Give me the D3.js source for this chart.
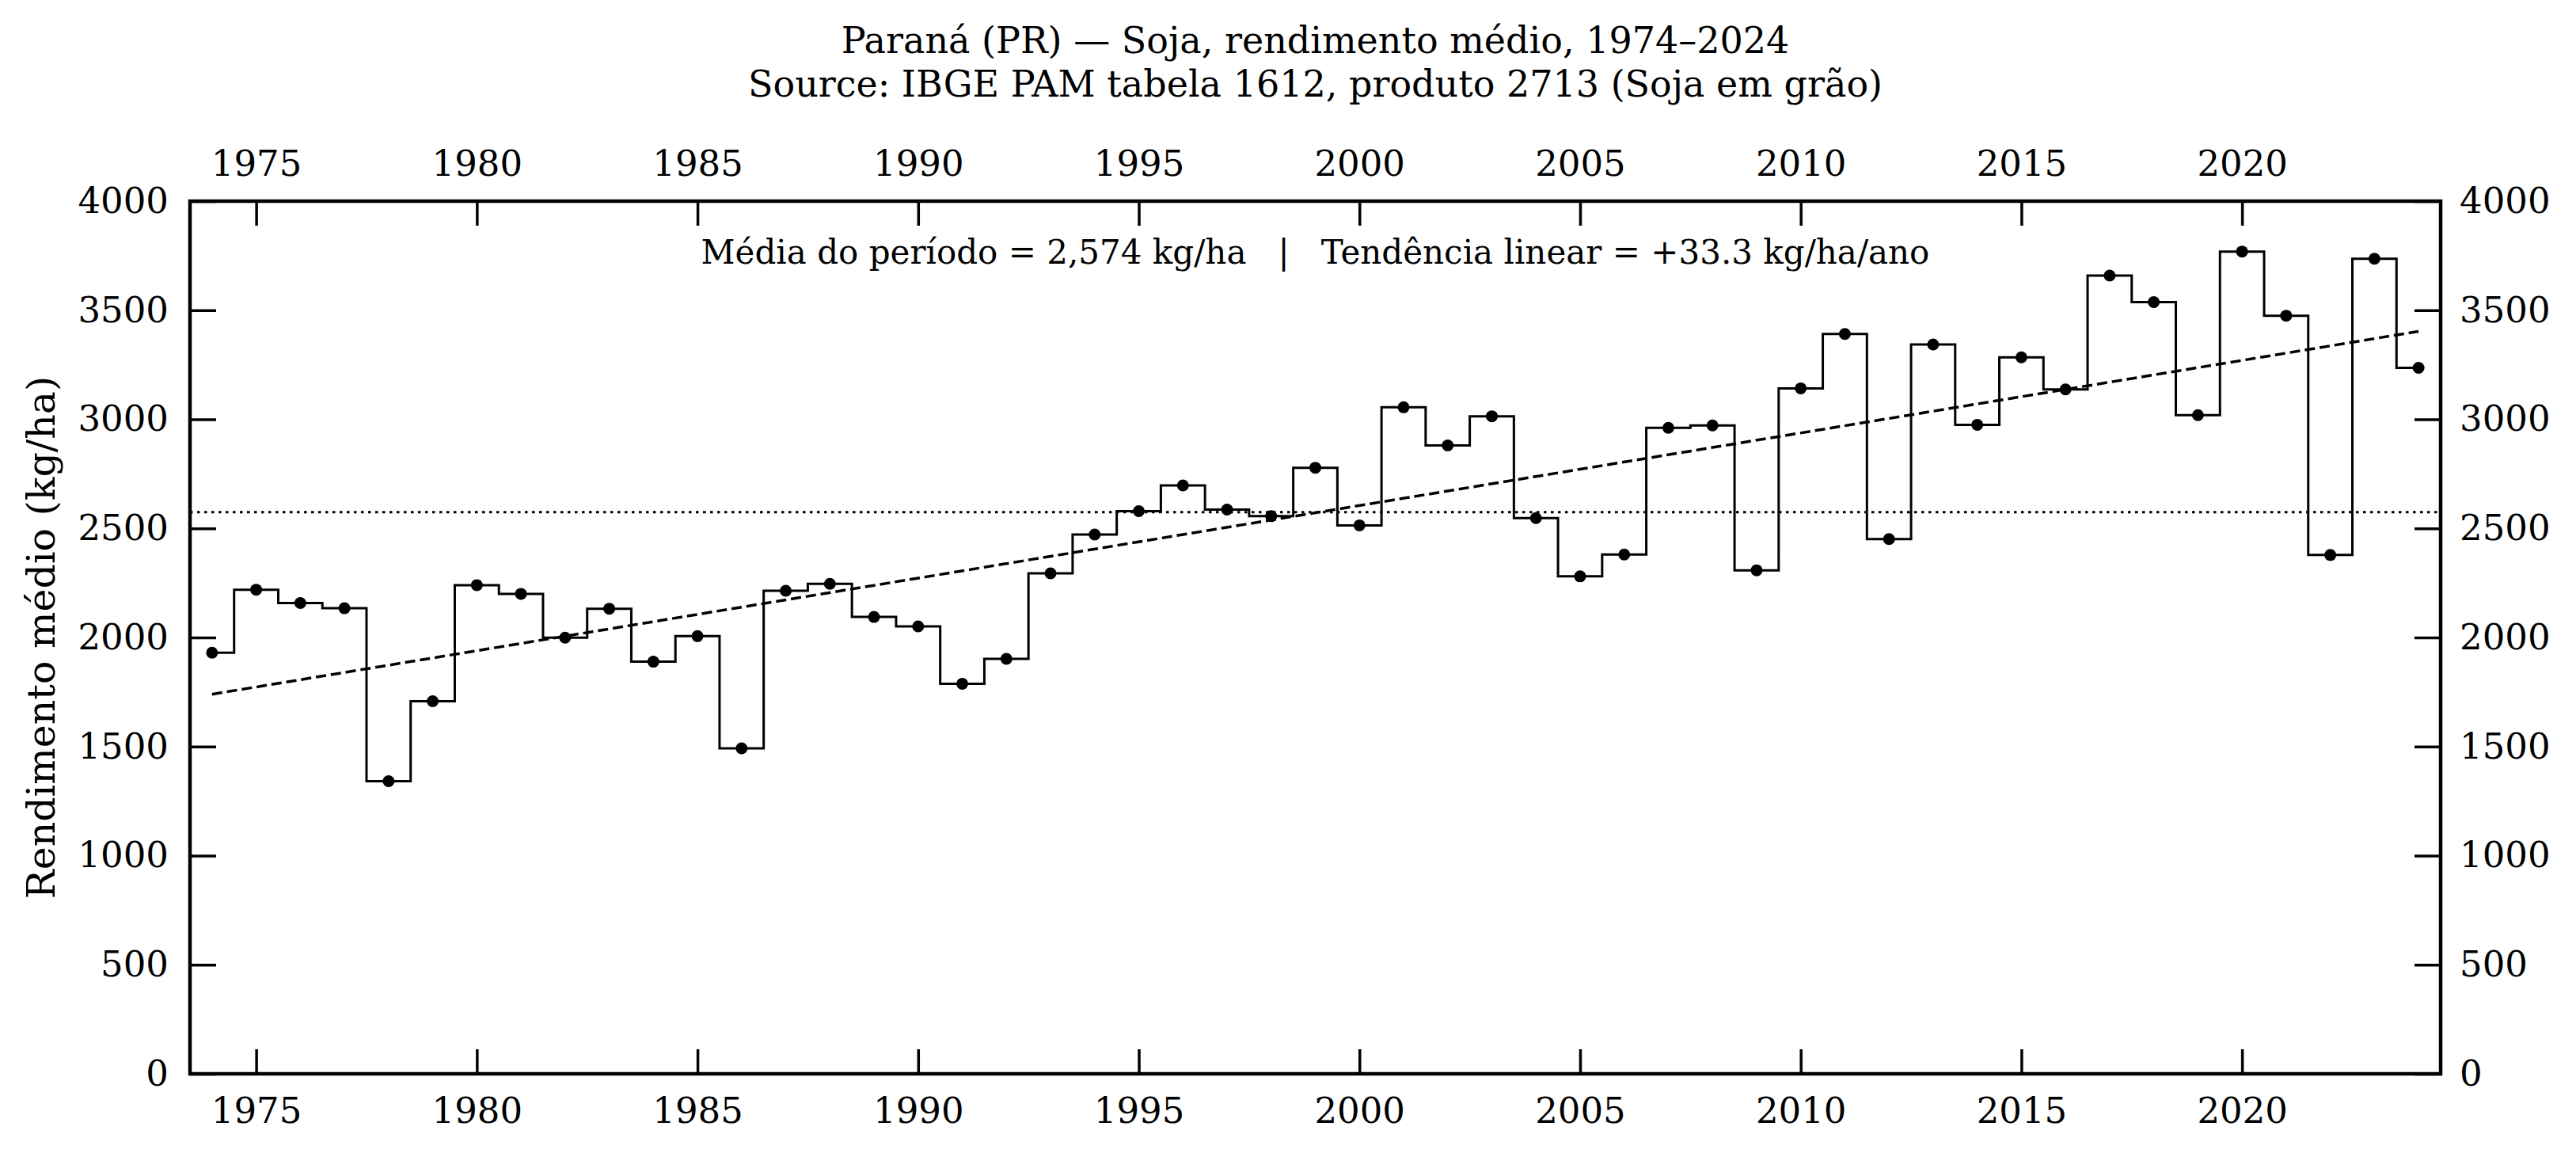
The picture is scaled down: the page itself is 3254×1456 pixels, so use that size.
<!DOCTYPE html>
<html>
<head>
<meta charset="utf-8">
<script src="https://cdn.jsdelivr.net/npm/d3@7"></script>
<style>
  html, body { margin: 0; padding: 0; background: #fff; }
  svg { display: block; }
  text { font-family: "DejaVu Serif", serif; fill: #000; }
</style>
</head>
<body>
<svg id="chart" width="3254" height="1456"></svg>
<script>
const years = d3.range(1974, 2025);
const yields = [
  1930, 2219, 2158, 2134, 1341, 1708, 2240, 2200, 1999, 2132,
  1889, 2006, 1492, 2214, 2246, 2094, 2051, 1788, 1902, 2294,
  2472, 2579, 2697, 2586, 2556, 2778, 2514, 3055, 2880, 3014,
  2547, 2280, 2380, 2961, 2972, 2308, 3142, 3391, 2451, 3343,
  2975, 3284, 3137, 3659, 3537, 3019, 3769, 3475, 2378, 3736,
  3236
];
const xTicks = [1975, 1980, 1985, 1990, 1995, 2000, 2005, 2010, 2015, 2020];
const yTicks = [0, 500, 1000, 1500, 2000, 2500, 3000, 3500, 4000];
const titleLines = ["Paraná (PR) — Soja, rendimento médio, 1974–2024",
                    "Source: IBGE PAM tabela 1612, produto 2713 (Soja em grão)"];
const meanValue = 2574;
const annotation = "Média do período = 2,574 kg/ha   |   Tendência linear = +33.3 kg/ha/ano";
const yLabel = "Rendimento médio (kg/ha)";

const data = years.map((y, i) => ({ year: y, v: yields[i] }));

const L = 240, R = 3083, T = 254, B = 1356;
const svg = d3.select("#chart");
const x = d3.scaleLinear().domain([1973.5, 2024.5]).range([L, R]);
const y = d3.scaleLinear().domain([0, 4000]).range([B, T]);

// least-squares linear trend through the data
const mx = d3.mean(years), my = d3.mean(yields);
let sxy = 0, sxx = 0;
years.forEach((yr, i) => { sxy += (yr - mx) * (yields[i] - my); sxx += (yr - mx) * (yr - mx); });
const slope = sxy / sxx;
const intercept = my - slope * mx;
const trend = [years[0], years[years.length - 1]].map(yr => ({ year: yr, v: intercept + slope * yr }));

// mean line
svg.append("line")
  .attr("x1", L).attr("x2", R)
  .attr("y1", y(meanValue)).attr("y2", y(meanValue))
  .attr("stroke", "#000").attr("stroke-width", 3)
  .attr("stroke-dasharray", "3.5,5.5");

// trend line
svg.append("path")
  .datum(trend)
  .attr("d", d3.line().x(d => x(d.year)).y(d => y(d.v)))
  .attr("fill", "none").attr("stroke", "#000").attr("stroke-width", 3.5)
  .attr("stroke-dasharray", "13,6");

// step line
svg.append("path")
  .datum(data)
  .attr("d", d3.line().curve(d3.curveStep).x(d => x(d.year)).y(d => y(d.v)))
  .attr("fill", "none").attr("stroke", "#000").attr("stroke-width", 3);

// points
svg.append("g").selectAll("circle").data(data).join("circle")
  .attr("cx", d => x(d.year)).attr("cy", d => y(d.v)).attr("r", 7.5)
  .attr("fill", "#000");

// axes
const fs = 45;
function styleAxis(g) {
  g.select(".domain").remove();
  g.selectAll(".tick line").attr("stroke", "#000").attr("stroke-width", 3.5);
  g.selectAll(".tick text").attr("font-size", fs).attr("font-family", "DejaVu Serif");
}
svg.append("g").attr("transform", `translate(0,${B})`)
  .call(d3.axisBottom(x).tickValues(xTicks).tickFormat(d3.format("d")).tickSize(-31).tickPadding(30))
  .call(styleAxis);
svg.append("g").attr("transform", `translate(0,${T})`)
  .call(d3.axisTop(x).tickValues(xTicks).tickFormat(d3.format("d")).tickSize(-31).tickPadding(32))
  .call(styleAxis);
svg.append("g").attr("transform", `translate(${L},0)`)
  .call(d3.axisLeft(y).tickValues(yTicks).tickFormat(d3.format("d")).tickSize(-33).tickPadding(27))
  .call(styleAxis);
svg.append("g").attr("transform", `translate(${R},0)`)
  .call(d3.axisRight(y).tickValues(yTicks).tickFormat(d3.format("d")).tickSize(-33).tickPadding(24))
  .call(styleAxis);

// frame
svg.append("rect").attr("x", L).attr("y", T).attr("width", R - L).attr("height", B - T)
  .attr("fill", "none").attr("stroke", "#000").attr("stroke-width", 4.5);

// annotation
svg.append("text").attr("x", (L + R) / 2).attr("y", 333)
  .attr("text-anchor", "middle").attr("font-size", 42).style("white-space", "pre")
  .attr("xml:space", "preserve")
  .text(annotation);

// title
svg.append("text").attr("x", (L + R) / 2).attr("y", 67)
  .attr("text-anchor", "middle").attr("font-size", 46).text(titleLines[0]);
svg.append("text").attr("x", (L + R) / 2).attr("y", 122)
  .attr("text-anchor", "middle").attr("font-size", 46).text(titleLines[1]);

// y label
svg.append("text")
  .attr("transform", `translate(52,${(T + B) / 2}) rotate(-90)`)
  .attr("dy", "0.35em").attr("text-anchor", "middle").attr("font-size", 49)
  .text(yLabel);
</script>
</body>
</html>
